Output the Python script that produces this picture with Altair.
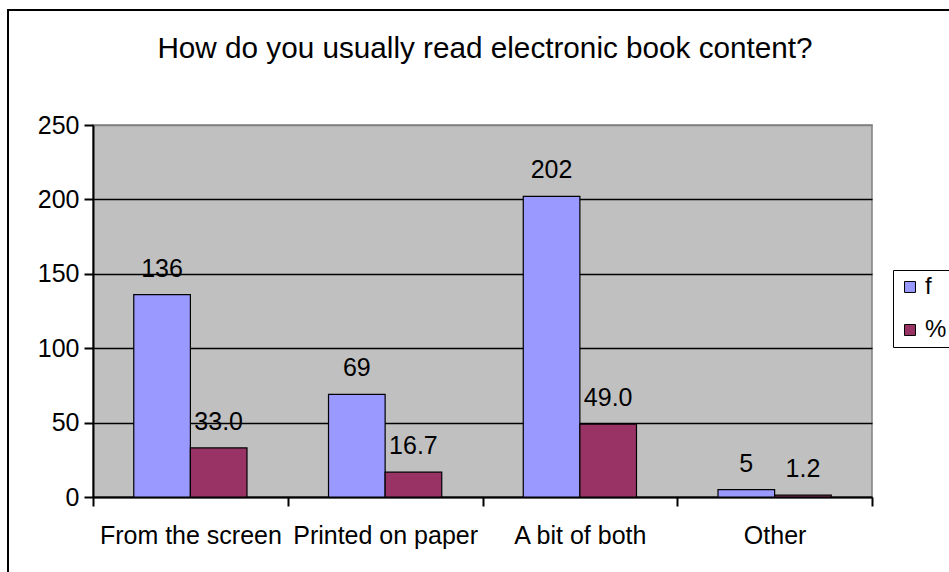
import altair as alt
import pandas as pd

# Survey answers: counts (f) and shares (%)
categories = ["From the screen", "Printed on paper", "A bit of both", "Other"]
series = ["f", "%"]
counts = [136, 69, 202, 5]
percents = [33.0, 16.7, 49.0, 1.2]
y_ticks = [0, 50, 100, 150, 200, 250]
title_text = "How do you usually read electronic book content?"

rows = []
for cat, c, p in zip(categories, counts, percents):
    rows.append({"answer": cat, "series": "f", "value": c, "label": f"{c}"})
    rows.append({"answer": cat, "series": "%", "value": p, "label": f"{p:.1f}"})
df = pd.DataFrame(rows)

FONT = "Liberation Sans, Arial, sans-serif"

x_enc = alt.X(
    "answer:N",
    sort=categories,
    scale=alt.Scale(paddingInner=0, paddingOuter=0),
    axis=alt.Axis(
        title=None,
        labelAngle=0,
        labelFontSize=25,
        labelFont=FONT,
        labelColor="black",
        labelPadding=17,
        labelLimit=400,
        tickBand="extent",
        tickSize=9,
        tickColor="black",
        tickWidth=2,
        domainColor="black",
        domainWidth=2,
        grid=False,
    ),
)
xoff_enc = alt.XOffset(
    "series:N",
    sort=series,
    scale=alt.Scale(paddingInner=0, paddingOuter=0.72),
)
y_enc = alt.Y(
    "value:Q",
    scale=alt.Scale(domain=[0, 250], nice=False),
    axis=alt.Axis(
        title=None,
        values=y_ticks,
        labelFontSize=25,
        labelFont=FONT,
        labelColor="black",
        labelPadding=5,
        tickSize=9,
        tickColor="black",
        tickWidth=2,
        domainColor="black",
        domainWidth=2,
        grid=True,
        gridColor={"condition": {"test": "datum.value === 250", "value": "#808080"}, "value": "black"},
        gridWidth=1.3,
    ),
)
color_enc = alt.Color(
    "series:N",
    sort=series,
    scale=alt.Scale(domain=series, range=["#9999FF", "#993366"]),
    legend=alt.Legend(
        title=None,
        orient="none",
        legendX=800,
        legendY=145,
        padding=5,
        strokeColor="black",
        symbolType="square",
        symbolSize=120,
        symbolStrokeColor="black",
        symbolStrokeWidth=1,
        labelFontSize=24,
        labelFont=FONT,
        labelColor="black",
        labelOffset=3,
        rowPadding=19,
    ),
)

base = alt.Chart(df)

bars = base.mark_bar(stroke="black", strokeWidth=1.2).encode(
    x=x_enc, xOffset=xoff_enc, y=y_enc, color=color_enc
)

labels = base.mark_text(
    baseline="alphabetic", align="center", dy=-18, fontSize=25, font=FONT, color="black"
).encode(
    x=alt.X("answer:N", sort=categories),
    xOffset=alt.XOffset("series:N", sort=series),
    y="value:Q",
    text="label:N",
)

# chart title, drawn as text above the plot area
title = alt.Chart(pd.DataFrame({"t": [title_text]})).mark_text(
    baseline="alphabetic", align="center", fontSize=29.7, font=FONT, color="black"
).encode(
    x=alt.value(392), y=alt.value(-67), text="t:N"
)

# outer chart frame
frame = alt.Chart(pd.DataFrame({"k": [0]})).mark_rect(
    fill=None, stroke="black", strokeWidth=2
).encode(
    x=alt.value(-85), x2=alt.value(900), y=alt.value(-115), y2=alt.value(480)
)

chart = (
    alt.layer(bars, labels, title, frame)
    .properties(
        width=779,
        height=372,
        padding={"left": 93, "top": 125, "right": 77, "bottom": 75},
        autosize=alt.AutoSizeParams(type="none"),
        background="white",
    )
    .configure_view(fill="#C0C0C0", stroke="#808080", strokeWidth=1.5)
)

chart.save("out.html", embed_options={"renderer": "svg", "actions": False})
